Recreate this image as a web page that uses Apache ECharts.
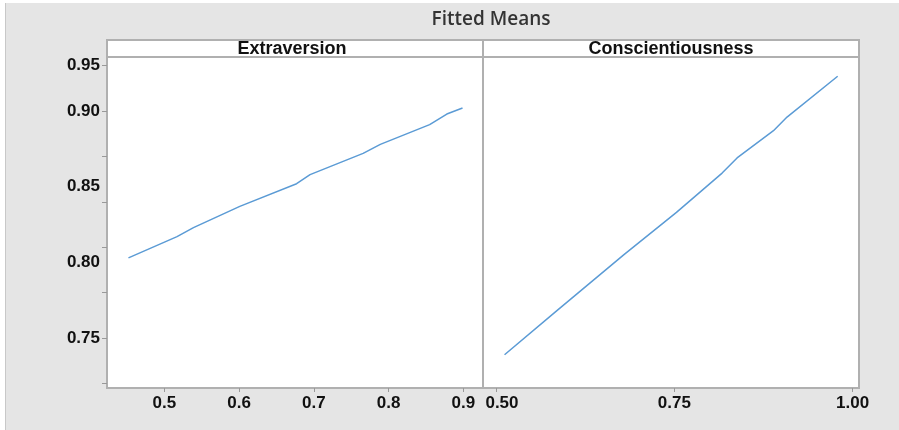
<!DOCTYPE html>
<html>
<head>
<meta charset="utf-8">
<script src="https://cdn.jsdelivr.net/npm/echarts@6/dist/echarts.min.js"></script>
<style>
  html, body { margin: 0; padding: 0; background: #fff; }
  #chart { width: 899px; height: 430px; }
</style>
</head>
<body>
<div id="chart"></div>
<script>
// panel names
const panels = ['Extraversion', 'Conscientiousness']

// fitted means: [x, mean]
const extraversion = [
  [0.452, 0.803], [0.517, 0.817], [0.539, 0.823], [0.601, 0.837],
  [0.677, 0.852], [0.695, 0.858], [0.766, 0.872], [0.789, 0.878],
  [0.855, 0.891], [0.878, 0.898], [0.899, 0.902]
]
const conscientiousness = [
  [0.512, 0.739], [0.585, 0.768], [0.679, 0.805], [0.753, 0.833],
  [0.817, 0.859], [0.838, 0.869], [0.889, 0.887], [0.908, 0.896],
  [0.979, 0.923]
]

// axis ticks and labels
const yTicks = [0.72, 0.75, 0.78, 0.81, 0.84, 0.87, 0.90, 0.93]
const yLabelVals = [0.75, 0.80, 0.85, 0.90, 0.93]
const yLabelTexts = ['0.75', '0.80', '0.85', '0.90', '0.95']
const xTicksLeft = [0.5, 0.6, 0.7, 0.8, 0.9]
const xTicksRight = [0.5, 0.75, 1.0]

const chart = echarts.init(document.getElementById('chart'))

const lineColor = '#5b9bd5'
const frame = '#b0b0b0'
const labelFont = {
  color: '#111',
  fontSize: 17,
  fontWeight: 'bold',
  fontFamily: 'Liberation Sans'
}

const xAxisBase = {
  type: 'value',
  axisLine: { show: false },
  splitLine: { show: false },
  axisTick: { show: true, length: 4, lineStyle: { color: '#999' } },
  axisLabel: { ...labelFont, margin: 7 }
}

const option = {
  backgroundColor: '#fff',
  animation: false,
  title: {
    text: 'Fitted Means',
    left: 486,
    top: 5,
    textAlign: 'center',
    textStyle: {
      color: '#333',
      fontSize: 19,
      fontWeight: 600,
      fontFamily: 'Open Sans'
    }
  },
  graphic: [
    {
      type: 'rect', z: -10, silent: true,
      shape: { x: 5, y: 3, width: 894, height: 427 },
      style: { fill: '#e5e5e5' }
    },
    {
      type: 'line', z: -9, silent: true,
      shape: { x1: 5.5, y1: 3, x2: 5.5, y2: 430 },
      style: { stroke: '#c8c8c8', lineWidth: 1 }
    },
    {
      type: 'rect', silent: true,
      shape: { x: 107, y: 40, width: 376, height: 17 },
      style: { fill: '#fff', stroke: frame, lineWidth: 2 }
    },
    {
      type: 'rect', silent: true,
      shape: { x: 483, y: 40, width: 376, height: 17 },
      style: { fill: '#fff', stroke: frame, lineWidth: 2 }
    },
    {
      type: 'text', silent: true,
      x: 292, y: 49,
      style: { text: panels[0], align: 'center', verticalAlign: 'middle', fill: '#111', font: 'bold 18px "Liberation Sans"' }
    },
    {
      type: 'text', silent: true,
      x: 671, y: 49,
      style: { text: panels[1], align: 'center', verticalAlign: 'middle', fill: '#111', font: 'bold 18px "Liberation Sans"' }
    }
  ],
  grid: [
    { left: 107, right: 416, top: 57, bottom: 42, show: true, backgroundColor: '#fff', borderColor: frame, borderWidth: 2 },
    { left: 483, right: 40, top: 57, bottom: 42, show: true, backgroundColor: '#fff', borderColor: frame, borderWidth: 2 }
  ],
  xAxis: [
    {
      ...xAxisBase,
      gridIndex: 0,
      min: 0.4233,
      max: 0.9264,
      axisTick: { ...xAxisBase.axisTick, customValues: xTicksLeft },
      axisLabel: { ...xAxisBase.axisLabel, customValues: xTicksLeft, formatter: v => v.toFixed(1) }
    },
    {
      ...xAxisBase,
      gridIndex: 1,
      min: 0.4818,
      max: 1.0089,
      axisTick: { ...xAxisBase.axisTick, customValues: xTicksRight },
      axisLabel: {
        ...xAxisBase.axisLabel,
        customValues: xTicksRight,
        // first label sits a little right of its tick, clear of the left panel's 0.9
        formatter: v => v === xTicksRight[0] ? '{s|' + v.toFixed(2) + '}' : v.toFixed(2),
        rich: { s: { ...labelFont, padding: [0, 0, 0, 12] } }
      }
    }
  ],
  yAxis: [
    {
      type: 'value',
      gridIndex: 0,
      min: 0.717,
      max: 0.9357,
      axisLine: { show: false },
      splitLine: { show: false },
      axisTick: { show: true, length: 5, customValues: yTicks, lineStyle: { color: '#999' } },
      axisLabel: {
        ...labelFont,
        margin: 7,
        customValues: yLabelVals,
        formatter: v => {
          let best = 0
          yLabelVals.forEach((p, i) => { if (Math.abs(p - v) < Math.abs(yLabelVals[best] - v)) best = i })
          return yLabelTexts[best]
        }
      }
    },
    {
      type: 'value',
      gridIndex: 1,
      min: 0.717,
      max: 0.9357,
      axisLine: { show: false },
      splitLine: { show: false },
      axisTick: { show: false },
      axisLabel: { show: false }
    }
  ],
  series: [
    {
      name: panels[0],
      type: 'line',
      xAxisIndex: 0,
      yAxisIndex: 0,
      data: extraversion,
      showSymbol: false,
      lineStyle: { color: lineColor, width: 1.5 }
    },
    {
      name: panels[1],
      type: 'line',
      xAxisIndex: 1,
      yAxisIndex: 1,
      data: conscientiousness,
      showSymbol: false,
      lineStyle: { color: lineColor, width: 1.5 }
    }
  ]
}

chart.setOption(option)
</script>
</body>
</html>
